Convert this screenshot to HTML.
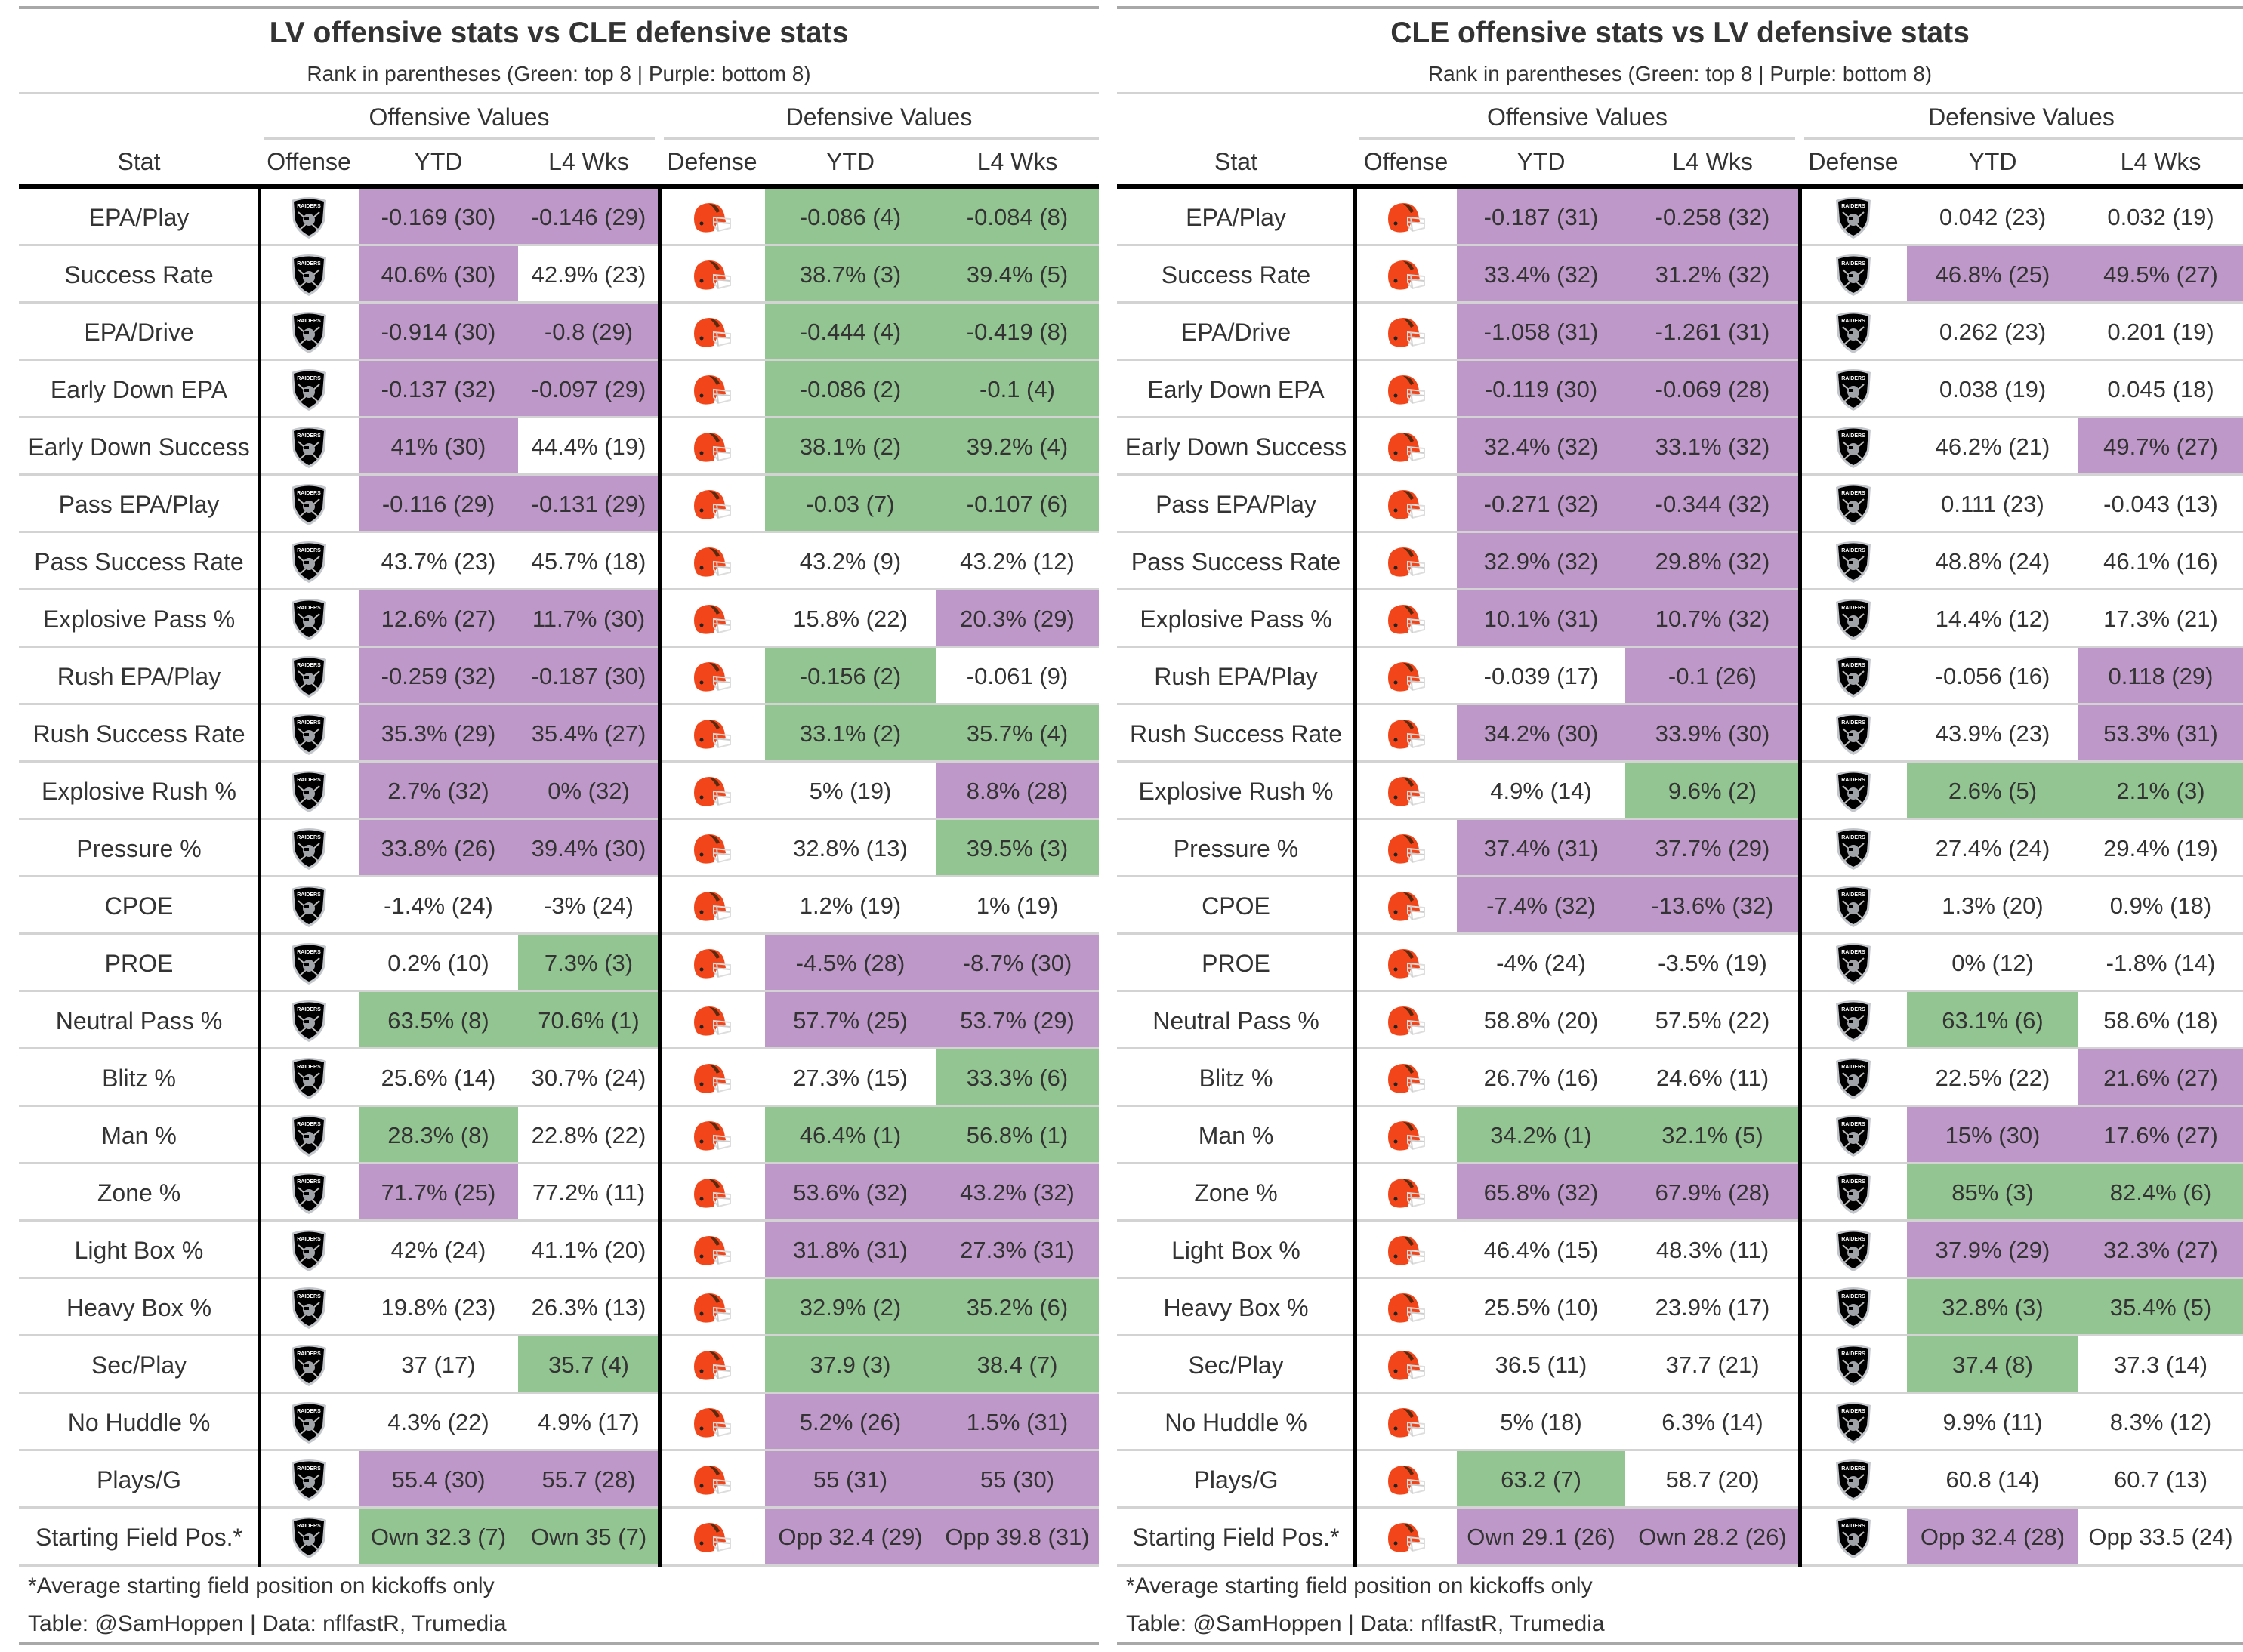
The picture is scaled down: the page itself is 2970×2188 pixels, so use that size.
<!DOCTYPE html>
<html><head><meta charset="utf-8">
<style>
html,body{margin:0;padding:0;background:#fff;}
body{width:2970px;height:2188px;position:relative;overflow:hidden;font-family:"Liberation Sans",sans-serif;color:#333;}
.a{position:absolute;}
.t{position:absolute;text-align:center;white-space:nowrap;}
</style></head><body>
<div id="root"></div>
<script>
// ---- data ----
const stats = ["EPA/Play","Success Rate","EPA/Drive","Early Down EPA","Early Down Success","Pass EPA/Play","Pass Success Rate","Explosive Pass %","Rush EPA/Play","Rush Success Rate","Explosive Rush %","Pressure %","CPOE","PROE","Neutral Pass %","Blitz %","Man %","Zone %","Light Box %","Heavy Box %","Sec/Play","No Huddle %","Plays/G","Starting Field Pos.*"];
const lvOffYtd = ["-0.169 (30)","40.6% (30)","-0.914 (30)","-0.137 (32)","41% (30)","-0.116 (29)","43.7% (23)","12.6% (27)","-0.259 (32)","35.3% (29)","2.7% (32)","33.8% (26)","-1.4% (24)","0.2% (10)","63.5% (8)","25.6% (14)","28.3% (8)","71.7% (25)","42% (24)","19.8% (23)","37 (17)","4.3% (22)","55.4 (30)","Own 32.3 (7)"];
const lvOffL4 = ["-0.146 (29)","42.9% (23)","-0.8 (29)","-0.097 (29)","44.4% (19)","-0.131 (29)","45.7% (18)","11.7% (30)","-0.187 (30)","35.4% (27)","0% (32)","39.4% (30)","-3% (24)","7.3% (3)","70.6% (1)","30.7% (24)","22.8% (22)","77.2% (11)","41.1% (20)","26.3% (13)","35.7 (4)","4.9% (17)","55.7 (28)","Own 35 (7)"];
const cleDefYtd = ["-0.086 (4)","38.7% (3)","-0.444 (4)","-0.086 (2)","38.1% (2)","-0.03 (7)","43.2% (9)","15.8% (22)","-0.156 (2)","33.1% (2)","5% (19)","32.8% (13)","1.2% (19)","-4.5% (28)","57.7% (25)","27.3% (15)","46.4% (1)","53.6% (32)","31.8% (31)","32.9% (2)","37.9 (3)","5.2% (26)","55 (31)","Opp 32.4 (29)"];
const cleDefL4 = ["-0.084 (8)","39.4% (5)","-0.419 (8)","-0.1 (4)","39.2% (4)","-0.107 (6)","43.2% (12)","20.3% (29)","-0.061 (9)","35.7% (4)","8.8% (28)","39.5% (3)","1% (19)","-8.7% (30)","53.7% (29)","33.3% (6)","56.8% (1)","43.2% (32)","27.3% (31)","35.2% (6)","38.4 (7)","1.5% (31)","55 (30)","Opp 39.8 (31)"];
const cleOffYtd = ["-0.187 (31)","33.4% (32)","-1.058 (31)","-0.119 (30)","32.4% (32)","-0.271 (32)","32.9% (32)","10.1% (31)","-0.039 (17)","34.2% (30)","4.9% (14)","37.4% (31)","-7.4% (32)","-4% (24)","58.8% (20)","26.7% (16)","34.2% (1)","65.8% (32)","46.4% (15)","25.5% (10)","36.5 (11)","5% (18)","63.2 (7)","Own 29.1 (26)"];
const cleOffL4 = ["-0.258 (32)","31.2% (32)","-1.261 (31)","-0.069 (28)","33.1% (32)","-0.344 (32)","29.8% (32)","10.7% (32)","-0.1 (26)","33.9% (30)","9.6% (2)","37.7% (29)","-13.6% (32)","-3.5% (19)","57.5% (22)","24.6% (11)","32.1% (5)","67.9% (28)","48.3% (11)","23.9% (17)","37.7 (21)","6.3% (14)","58.7 (20)","Own 28.2 (26)"];
const lvDefYtd = ["0.042 (23)","46.8% (25)","0.262 (23)","0.038 (19)","46.2% (21)","0.111 (23)","48.8% (24)","14.4% (12)","-0.056 (16)","43.9% (23)","2.6% (5)","27.4% (24)","1.3% (20)","0% (12)","63.1% (6)","22.5% (22)","15% (30)","85% (3)","37.9% (29)","32.8% (3)","37.4 (8)","9.9% (11)","60.8 (14)","Opp 32.4 (28)"];
const lvDefL4 = ["0.032 (19)","49.5% (27)","0.201 (19)","0.045 (18)","49.7% (27)","-0.043 (13)","46.1% (16)","17.3% (21)","0.118 (29)","53.3% (31)","2.1% (3)","29.4% (19)","0.9% (18)","-1.8% (14)","58.6% (18)","21.6% (27)","17.6% (27)","82.4% (6)","32.3% (27)","35.4% (5)","37.3 (14)","8.3% (12)","60.7 (13)","Opp 33.5 (24)"];

const root = document.getElementById('root');
const PURPLE='#bf98ca', GREEN='#92c591';
function colorFor(s){const m=s.match(/\((\d+)\)/);const r=+m[1];return r<=8?GREEN:(r>=25?PURPLE:null);}
function el(cls,x,y,w,h,bg){const d=document.createElement('div');d.className=cls;d.style.left=x+'px';d.style.top=y+'px';d.style.width=w+'px';d.style.height=h+'px';if(bg)d.style.background=bg;root.appendChild(d);return d;}
function raiders(){return '<svg width="54" height="58" viewBox="0 0 54 58"><path d="M4 6 Q27 -2 50 6 L48 34 Q42 50 27 57 Q12 50 6 34 Z" fill="#c4c8cc"/><path d="M7 8 Q27 1 47 8 L45 33 Q40 47 27 53 Q14 47 9 33 Z" fill="#000"/><text x="27" y="16" font-size="7" font-weight="bold" fill="#fff" text-anchor="middle" font-family="Liberation Sans">RAIDERS</text><line x1="13" y1="22" x2="40" y2="46" stroke="#bbb" stroke-width="2"/><line x1="41" y1="22" x2="14" y2="46" stroke="#bbb" stroke-width="2"/><circle cx="27" cy="32" r="8" fill="#a0a4a8"/><rect x="21" y="28" width="6" height="4" fill="#000"/></svg>';}
function browns(){return '<svg width="56" height="44" viewBox="0 0 56 44"><path d="M4 24 Q4 4 24 3 Q40 3 44 18 L46 28 L34 30 L30 40 Q16 44 8 38 Q4 32 4 24 Z" fill="#f2461a"/><path d="M24 4 Q34 4 38 14 L34 16 Q30 8 24 4Z" fill="#5a2a10"/><path d="M30 22 L52 24 L52 36 L36 40 L30 32 Z" fill="none" stroke="#ddd" stroke-width="2"/><line x1="34" y1="22" x2="36" y2="40" stroke="#ccc" stroke-width="2"/><line x1="30" y1="28" x2="52" y2="30" stroke="#ccc" stroke-width="2"/><circle cx="14" cy="30" r="2.5" fill="#222"/></svg>';}

function table(x0,cols,title,offLogo,defLogo,oy,o4,dy,d4,key){
  const W=cols[7]-cols[0];
  el('a',x0,8,W,4,'#a8a8a8');
  let t=el('t',x0,22,W,50);t.style.fontSize='39px';t.style.fontWeight='bold';t.textContent=title;
  
  t=el('t',x0,82,W,34);t.style.fontSize='28px';t.textContent='Rank in parentheses (Green: top 8 | Purple: bottom 8)';
  
  el('a',x0,122,W,3,'#d3d3d3');
  t=el('t',cols[1],137,cols[4]-cols[1],38);t.style.fontSize='32px';t.textContent='Offensive Values';
  
  el('a',cols[1]+6,181,cols[4]-cols[1]-12,4,'#d3d3d3');
  t=el('t',cols[4],137,cols[7]-cols[4],38);t.style.fontSize='32px';t.textContent='Defensive Values';
  
  el('a',cols[4]+6,181,cols[7]-cols[4]-6,4,'#d3d3d3');
  const labels=['Stat','Offense','YTD','L4 Wks','Defense','YTD','L4 Wks'];
  for(let i=0;i<7;i++){t=el('t',cols[i],196,cols[i+1]-cols[i],40);t.style.fontSize='32px';t.textContent=labels[i];
    }
  const top=250,RH=76;
  for(let r=0;r<stats.length;r++){
    const y=top+r*RH;
    const vals=[oy[r],o4[r],dy[r],d4[r]];const ci=[2,3,5,6];
    for(let k=0;k<4;k++){const c=colorFor(vals[k]);if(c)el('a',cols[ci[k]],y,cols[ci[k]+1]-cols[ci[k]],RH,c);}
    el('a',x0,y+RH-3,W,3,'#d3d3d3');
    t=el('t',cols[0],y+20,cols[1]-cols[0],40);t.style.fontSize='32px';t.textContent=stats[r];
    
    for(let k=0;k<4;k++){t=el('t',cols[ci[k]],y+20,cols[ci[k]+1]-cols[ci[k]],40);t.style.fontSize='31px';t.textContent=vals[k];
      }
    let lg=el('t',cols[1],y+8,cols[2]-cols[1],60);lg.style.display='flex';lg.style.alignItems='center';lg.style.justifyContent='center';lg.innerHTML=offLogo();
    
    lg=el('t',cols[4],y+8,cols[5]-cols[4],60);lg.style.display='flex';lg.style.alignItems='center';lg.style.justifyContent='center';lg.innerHTML=defLogo();
    
  }
  const bot=top+stats.length*RH;
  el('a',x0,bot-3,W,4,'#d3d3d3');
  el('a',x0,244,W,6,'#000');
  el('a',cols[1]-2,244,5,bot-244+2,'#000');
  el('a',cols[4]-2,244,5,bot-244+2,'#000');
  t=el('t',x0+12,2084,900,36);t.style.textAlign='left';t.style.fontSize='30px';t.textContent='*Average starting field position on kickoffs only';
  
  t=el('t',x0+12,2134,900,36);t.style.textAlign='left';t.style.fontSize='30px';t.textContent='Table: @SamHoppen | Data: nflfastR, Trumedia';
  
  el('a',x0,2175,W,4,'#a8a8a8');
}
table(25,[25,343,475,686,873,1013,1239,1455],'LV offensive stats vs CLE defensive stats',raiders,browns,lvOffYtd,lvOffL4,cleDefYtd,cleDefL4,'lv');
table(1479,[1479,1794,1929,2152,2383,2525,2752,2970],'CLE offensive stats vs LV defensive stats',browns,raiders,cleOffYtd,cleOffL4,lvDefYtd,lvDefL4,'cle');
</script>
</body></html>
